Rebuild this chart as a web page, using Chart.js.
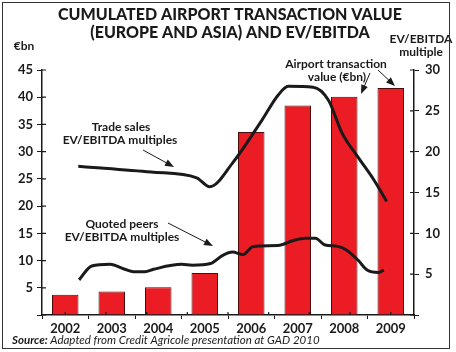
<!DOCTYPE html>
<html>
<head>
<meta charset="utf-8">
<script src="https://cdn.jsdelivr.net/npm/chart.js@4"></script>
<style>
  body { margin: 0; background: #fff; }
  #wrap { width: 456px; height: 352px; }
</style>
</head>
<body>
<div id="wrap"><canvas id="chart" width="456" height="352"></canvas></div>
<script>
// bars: cumulated airport transaction value (€bn), left axis
const years = ['2002', '2003', '2004', '2005', '2006', '2007', '2008', '2009'];
const transactionValue = [3.7, 4.3, 5.1, 7.7, 33.6, 38.5, 40.1, 41.7];

// lines: EV/EBITDA multiples, right axis (x = position along the year axis)
const tradeX = [2001.82, 2002.38, 2003.61, 2004.73, 2005.05, 2005.61, 2006.34, 2006.73, 2006.98, 2007.59, 2007.97, 2008.30, 2008.70, 2009.09, 2009.40];
const tradeY = [18.2, 18.0, 17.5, 16.8, 15.7, 18.6, 23.9, 26.9, 28.0, 27.9, 26.3, 22.3, 19.3, 16.5, 13.9];
const peersX = [2001.84, 2002.15, 2002.60, 2002.96, 2003.18, 2003.46, 2003.67, 2004.36, 2004.62, 2005.07, 2005.37, 2005.61, 2005.87, 2006.12, 2006.73, 2007.09, 2007.41, 2007.65, 2007.87, 2008.19, 2008.40, 2008.70, 2008.92, 2009.20, 2009.33];
const peersY = [4.3, 6.0, 6.2, 5.6, 5.3, 5.3, 5.6, 6.2, 6.1, 6.3, 7.3, 7.7, 7.4, 8.4, 8.5, 9.1, 9.4, 9.4, 8.6, 8.4, 8.0, 6.7, 5.5, 5.2, 5.5];

const FONT = 'Lato, "Open Sans", sans-serif';
const INK = '#1a1a1a';

function arrow(ctx, x1, y1, x2, y2) {
    const a = Math.atan2(y2 - y1, x2 - x1);
    ctx.beginPath();
    ctx.moveTo(x1, y1);
    ctx.lineTo(x2 - 6 * Math.cos(a), y2 - 6 * Math.sin(a));
    ctx.stroke();
    ctx.beginPath();
    ctx.moveTo(x2, y2);
    ctx.lineTo(x2 - 9 * Math.cos(a) + 3.5 * Math.sin(a), y2 - 9 * Math.sin(a) - 3.5 * Math.cos(a));
    ctx.lineTo(x2 - 9 * Math.cos(a) - 3.5 * Math.sin(a), y2 - 9 * Math.sin(a) + 3.5 * Math.cos(a));
    ctx.closePath();
    ctx.fill();
}

// texts, arrows, inner half of the tick marks, frame
const extras = {
    id: 'extras',
    afterDraw(chart) {
        const ctx = chart.ctx;
        const s = chart.scales;
        ctx.save();
        ctx.fillStyle = INK;
        ctx.strokeStyle = INK;
        ctx.textAlign = 'center';
        ctx.textBaseline = 'middle';

        ctx.font = '900 16px ' + FONT;
        ctx.fillText('CUMULATED AIRPORT TRANSACTION VALUE', 230, 15);
        ctx.fillText('(EUROPE AND ASIA) AND EV/EBITDA', 230, 33);

        ctx.font = 'bold 12px ' + FONT;
        ctx.fillText('€bn', 24, 46);
        ctx.fillText('EV/EBITDA', 421, 39);
        ctx.fillText('multiple', 421, 52);

        ctx.fillText('Airport transaction', 336, 64);
        ctx.fillText('value (€bn)', 337, 77);
        ctx.fillText('Trade sales', 121, 127);
        ctx.fillText('EV/EBITDA multiples', 120, 140);
        ctx.fillText('Quoted peers', 122, 224);
        ctx.fillText('EV/EBITDA multiples', 122, 237);

        ctx.lineWidth = 1;
        arrow(ctx, 370, 73, 361, 94);
        arrow(ctx, 378, 70, 395, 86);
        arrow(ctx, 143, 150, 174, 167);
        arrow(ctx, 168, 223, 213, 246);

        // inner half of tick marks
        ctx.lineWidth = 1.2;
        ctx.beginPath();
        s.y.ticks.forEach(t => {
            const py = s.y.getPixelForValue(t.value);
            ctx.moveTo(s.y.right, py); ctx.lineTo(s.y.right + 4, py);
        });
        s.y2.ticks.forEach(t => {
            const py = s.y2.getPixelForValue(t.value);
            ctx.moveTo(s.y2.left - 4, py); ctx.lineTo(s.y2.left, py);
        });
        for (let k = 0; k <= years.length; k++) {
            const px = s.x2.getPixelForValue(2001.5 + k);
            ctx.moveTo(px, s.x.top - 3); ctx.lineTo(px, s.x.top);
        }
        ctx.stroke();

        ctx.textAlign = 'left';
        ctx.font = 'italic bold 11.5px ' + FONT;
        ctx.fillText('Source:', 12, 340);
        const w = ctx.measureText('Source: ').width;
        ctx.font = 'italic 11.5px ' + FONT;
        ctx.fillText('Adapted from Credit Agricole presentation at GAD 2010', 12 + w, 340);

        ctx.lineWidth = 1;
        ctx.strokeStyle = '#333';
        ctx.strokeRect(2.5, 2.5, 447, 346);
        ctx.restore();
    }
};

const lineStyle = {
    type: 'line',
    xAxisID: 'x2',
    yAxisID: 'y2',
    borderColor: INK,
    borderWidth: 3,
    pointRadius: 0,
    cubicInterpolationMode: 'monotone',
    order: 0
};

new Chart(document.getElementById('chart'), {
    type: 'bar',
    data: {
        labels: years,
        datasets: [{
            label: 'Airport transaction value (€bn)',
            data: transactionValue,
            backgroundColor: '#ec1c24',
            borderColor: '#4a0c0c',
            borderWidth: 1,
            grouped: false,
            categoryPercentage: 1,
            barPercentage: 0.57,
            yAxisID: 'y',
            order: 1
        }, Object.assign({
            label: 'Trade sales EV/EBITDA multiples',
            data: tradeX.map((x, i) => ({ x: x, y: tradeY[i] }))
        }, lineStyle), Object.assign({
            label: 'Quoted peers EV/EBITDA multiples',
            data: peersX.map((x, i) => ({ x: x, y: peersY[i] }))
        }, lineStyle)]
    },
    options: {
        responsive: false,
        animation: false,
        layout: { padding: { top: 70, left: 0, right: 0, bottom: 0 } },
        plugins: { legend: { display: false }, tooltip: { enabled: false } },
        scales: {
            x: {
                position: 'bottom',
                grid: { drawOnChartArea: false, tickLength: 4, color: INK, offset: true },
                border: { color: INK, width: 1.5 },
                ticks: { color: INK, font: { family: FONT, size: 13, weight: 'bold' }, padding: 2 },
                afterFit: s => { s.height = 37; }
            },
            x2: {
                type: 'linear',
                display: false,
                min: 2001.5,
                max: 2009.5
            },
            y: {
                position: 'left',
                min: 0,
                max: 45,
                grid: { drawOnChartArea: false, tickLength: 5, color: INK },
                border: { color: INK, width: 1.5 },
                ticks: {
                    stepSize: 5,
                    color: INK,
                    padding: 4,
                    font: { family: FONT, size: 13, weight: 'bold' },
                    callback: v => v === 0 ? '' : v
                },
                afterFit: s => { s.width = 42; }
            },
            y2: {
                position: 'right',
                min: 0,
                max: 30,
                grid: { drawOnChartArea: false, tickLength: 5, color: INK },
                border: { color: INK, width: 1.5 },
                ticks: {
                    stepSize: 5,
                    color: INK,
                    padding: 6,
                    font: { family: FONT, size: 13, weight: 'bold' },
                    callback: v => v === 0 ? '' : v
                },
                afterFit: s => { s.width = 42; }
            }
        }
    },
    plugins: [extras]
});
</script>
</body>
</html>
